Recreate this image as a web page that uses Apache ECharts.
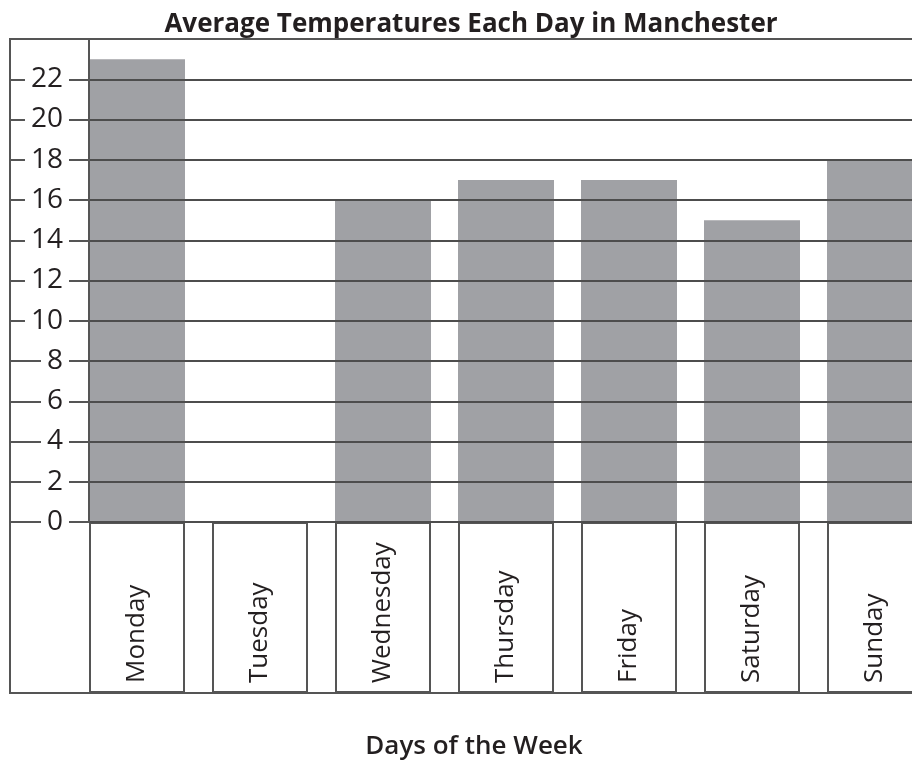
<!DOCTYPE html>
<html>
<head>
<meta charset="utf-8">
<script src="https://cdn.jsdelivr.net/npm/echarts@6/dist/echarts.min.js"></script>
<style>
  html, body { margin: 0; padding: 0; background: #fff; }
  #chart { width: 912px; height: 765px; }
</style>
</head>
<body>
<div id="chart"></div>
<script>
const days = ['Monday', 'Tuesday', 'Wednesday', 'Thursday', 'Friday', 'Saturday', 'Sunday']
const temperatures = [23, 0, 16, 17, 17, 15, 18]
// one full-height cell per day for the label table under the axis
const labelCells = days.map(() => 1)

const ink = '#231f20'
const rule = '#555'
const font = 'Open Sans'

const chart = echarts.init(document.getElementById('chart'))

const option = {
  backgroundColor: '#fff',
  animation: false,
  title: [
    {
      text: 'Average Temperatures Each Day in Manchester',
      left: 466,
      top: 7,
      textAlign: 'center',
      textStyle: { fontFamily: font, fontSize: 26, fontWeight: 'bold', color: ink },
    },
    {
      text: 'Days of the Week',
      left: 469,
      top: 729,
      textAlign: 'center',
      textStyle: { fontFamily: font, fontSize: 26, fontWeight: 600, color: ink },
    },
  ],
  // the plot runs past the right edge of the page, as in the printed sheet
  grid: [
    { left: 75.5, top: 39, width: 861, height: 483, outerBoundsMode: 'none' },
    { left: 75.5, top: 522, width: 861, height: 171, outerBoundsMode: 'none' },
  ],
  xAxis: [
    {
      type: 'category',
      gridIndex: 0,
      data: days,
      axisLine: { show: false },
      axisTick: { show: false },
      axisLabel: { show: false },
    },
    {
      type: 'category',
      gridIndex: 1,
      data: days,
      axisLine: { show: false },
      axisTick: { show: false },
      axisLabel: { show: false },
    },
  ],
  yAxis: [
    {
      type: 'value',
      gridIndex: 0,
      min: 0,
      max: 24,
      interval: 2,
      offset: -13.5,
      z: 3,
      axisLine: { show: true, lineStyle: { color: rule, width: 2 } },
      axisTick: { show: true, length: 79, lineStyle: { color: rule, width: 2 } },
      axisLabel: {
        showMaxLabel: false,
        margin: 20,
        padding: [0, 6],
        backgroundColor: '#fff',
        fontFamily: font,
        fontSize: 28,
        fontWeight: 500,
        color: ink,
      },
      splitLine: { show: true, lineStyle: { color: '#4d4d4d', width: 2 } },
    },
    {
      type: 'value',
      gridIndex: 1,
      min: 0,
      max: 1,
      show: false,
    },
  ],
  graphic: [
    {
      type: 'rect',
      shape: { x: 10, y: 39, width: 1000, height: 654 },
      style: { fill: 'none', stroke: rule, lineWidth: 2 },
      z: 10,
    },
  ],
  series: [
    {
      type: 'bar',
      xAxisIndex: 0,
      yAxisIndex: 0,
      data: temperatures,
      barWidth: 96,
      itemStyle: { color: '#a0a1a5' },
    },
    {
      type: 'bar',
      xAxisIndex: 1,
      yAxisIndex: 1,
      data: labelCells,
      barWidth: 96,
      itemStyle: { color: '#fff', borderColor: rule, borderWidth: 2 },
      label: {
        show: true,
        formatter: (p) => p.name,
        position: 'insideBottom',
        distance: 10,
        rotate: 90,
        align: 'left',
        verticalAlign: 'middle',
        fontFamily: font,
        fontSize: 26,
        color: ink,
      },
    },
  ],
}

chart.setOption(option)
</script>
</body>
</html>
